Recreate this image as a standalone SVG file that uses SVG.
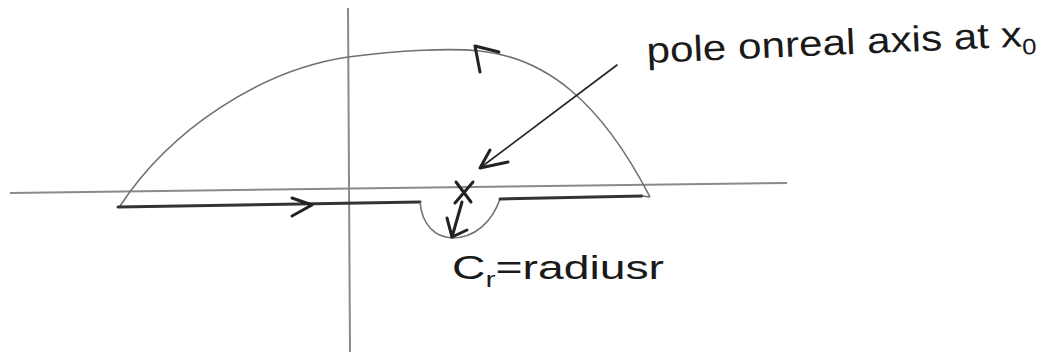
<svg xmlns="http://www.w3.org/2000/svg" width="1056" height="358" viewBox="0 0 1056 358">
<style>
.axis{stroke:#8a8a8a;stroke-width:2;fill:none}
.arc{stroke:#707070;stroke-width:1.6;fill:none}
.path{stroke:#333;stroke-width:3;fill:none;stroke-linecap:round}
.ink{stroke:#222;stroke-width:3;fill:none;stroke-linecap:round;stroke-linejoin:round}
.thin{stroke:#222;stroke-width:1.6;fill:none;stroke-linecap:round}
.lbl{font-family:"Liberation Sans",Arial,sans-serif;fill:#1a1a1a}
</style>
<rect width="1056" height="358" fill="#fff"/>
<g id="axes">
<line class="axis" x1="348" y1="8" x2="350" y2="352"/>
<line class="axis" x1="10" y1="193" x2="787" y2="183"/>
</g>
<g id="contour">
<path class="arc" d="M120,206 C170,130 260,70 348,57 C400,50 450,48 480,51 C545,58 600,100 650,197"/>
<path class="path" d="M118,207 L420,202"/>
<path class="arc" d="M420,202 C422,225 435,237 452,238 C475,238 492,222 500,199"/>
<path class="path" d="M500,199 L642,196"/>
<line class="arc" x1="642" y1="196" x2="650" y2="197"/>
</g>
<g id="connectors">
<polyline class="ink" points="292,198 312,205 292,216"/>
<polyline class="ink" points="480,72 475,46 499,52"/>
<line class="thin" x1="617" y1="65" x2="480" y2="168"/>
<polyline class="ink" points="490,150 480,168 508,162"/>
<line class="ink" x1="456" y1="182" x2="471" y2="202" stroke="#555"/>
<line class="ink" x1="473" y1="182" x2="455" y2="203" stroke="#555"/>
<line class="ink" x1="462" y1="202" x2="452" y2="237"/>
<polyline class="ink" points="447,218 452,237 467,230"/>
</g>
<g id="label-pole">
<text class="lbl" x="647" y="63" font-size="36" transform="rotate(-2.5 647 63)" textLength="390" lengthAdjust="spacingAndGlyphs">pole onreal axis at x<tspan font-size="22" dy="8">0</tspan></text>
</g>
<g id="label-cr">
<text class="lbl" x="452" y="279" font-size="34" textLength="212" lengthAdjust="spacingAndGlyphs">C<tspan font-size="22" dy="8">r</tspan><tspan dy="-8">=radiusr</tspan></text>
</g>
</svg>
